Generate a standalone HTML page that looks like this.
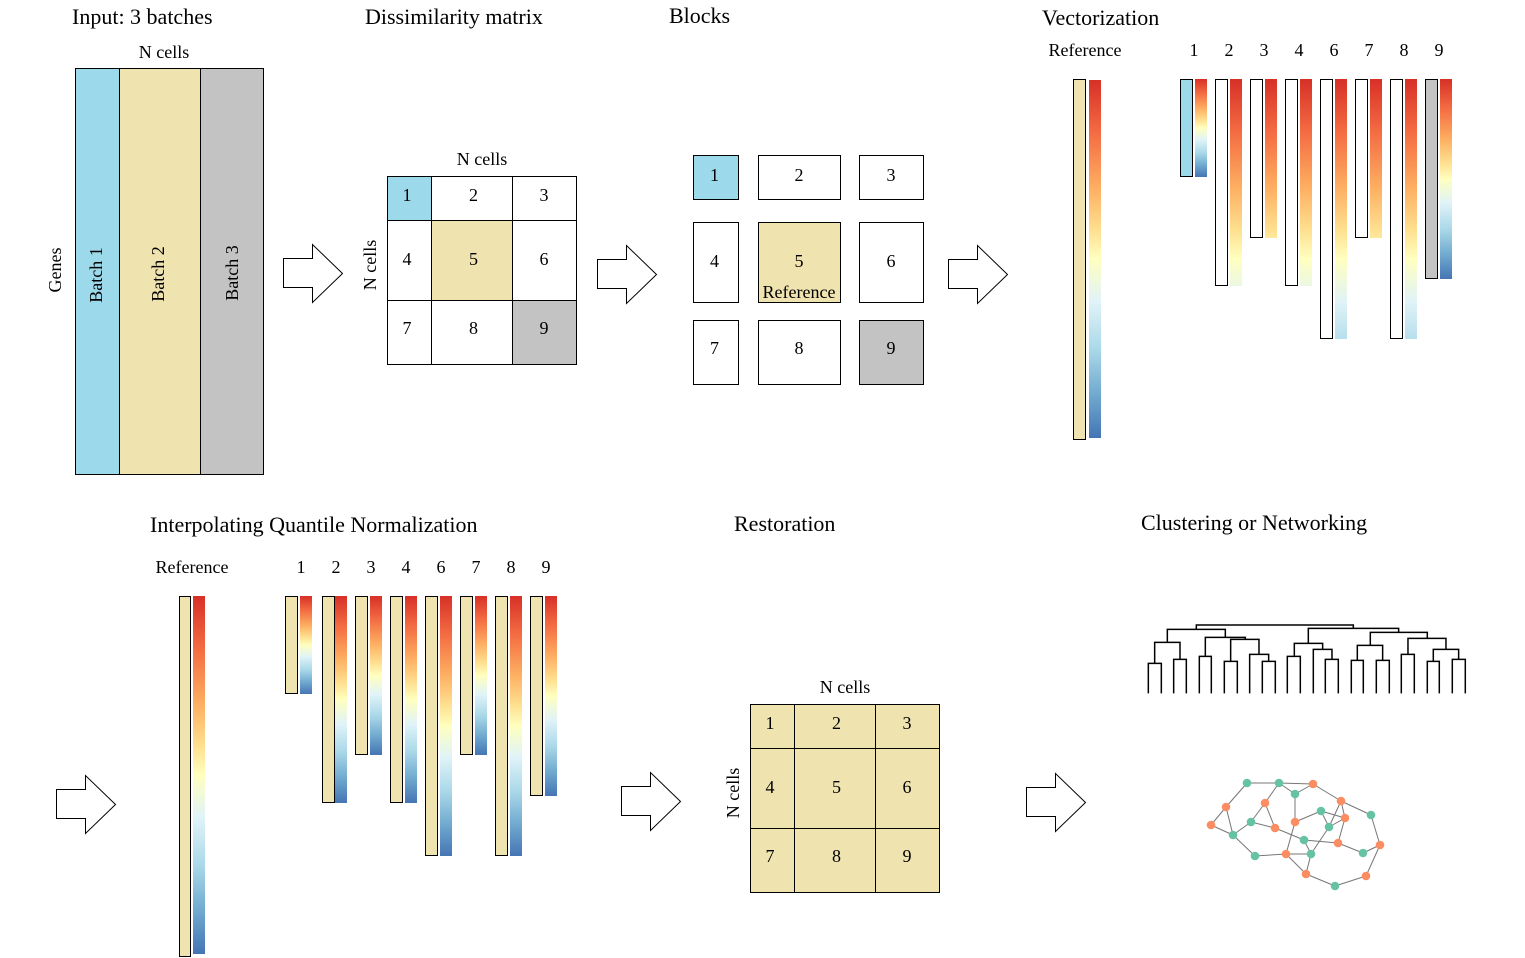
<!DOCTYPE html>
<html><head><meta charset="utf-8"><style>
html,body{margin:0;padding:0;background:#fff;}
svg{display:block;font-family:"Liberation Serif",serif;}
.t{font-size:22px;}
.s{font-size:18px;}
</style></head><body>
<svg id="svg" width="1525" height="958" viewBox="0 0 1525 958" xmlns="http://www.w3.org/2000/svg">
<defs>
<linearGradient id="rdylbu" x1="0" y1="0" x2="0" y2="1">
<stop offset="0" stop-color="#d73027"/><stop offset="0.15" stop-color="#f46d43"/><stop offset="0.3" stop-color="#fdae61"/><stop offset="0.42" stop-color="#fee090"/><stop offset="0.5" stop-color="#ffffbf"/><stop offset="0.62" stop-color="#e0f3f8"/><stop offset="0.75" stop-color="#abd9e9"/><stop offset="0.87" stop-color="#74add1"/><stop offset="1" stop-color="#4575b4"/>
</linearGradient>
</defs>
<text class="t" x="72" y="24">Input: 3 batches</text>
<text class="t" x="365" y="24">Dissimilarity matrix</text>
<text class="t" x="669" y="23">Blocks</text>
<text class="t" x="1042" y="25">Vectorization</text>
<text class="t" x="150" y="532">Interpolating Quantile Normalization</text>
<text class="t" x="734" y="531">Restoration</text>
<text class="t" x="1141" y="530">Clustering or Networking</text>

<g>
<text class="s" x="164" y="58" text-anchor="middle">N cells</text>
<rect x="75.5" y="68.5" width="44" height="406" fill="#9cd9ea" stroke="#000"/>
<rect x="119.5" y="68.5" width="81" height="406" fill="#efe3b0" stroke="#000"/>
<rect x="200.5" y="68.5" width="63" height="406" fill="#c3c3c3" stroke="#000"/>
<text class="s" transform="translate(61,270) rotate(-90)" text-anchor="middle">Genes</text>
<text class="s" transform="translate(102,275) rotate(-90)" text-anchor="middle">Batch 1</text>
<text class="s" transform="translate(164,274) rotate(-90)" text-anchor="middle">Batch 2</text>
<text class="s" transform="translate(238,273) rotate(-90)" text-anchor="middle">Batch 3</text>
</g>

<g id="arrows"></g>
<g id="grids"></g>
<g id="blocks"></g>
<g id="vec"></g>
<g id="iqn"></g>
<g id="dendro" transform="translate(1140,610) scale(0.3333)" fill="none" stroke="#000" stroke-width="4.5"></g>
<g id="net"></g>
</svg>
<script>
const NS='http://www.w3.org/2000/svg';
function mk(tag,attrs,parent){const e=document.createElementNS(NS,tag);for(const k in attrs)e.setAttribute(k,attrs[k]);parent.appendChild(e);return e;}
const svg=document.getElementById('svg');

const arrowX=[283,597,948,56,621,1026];
const arrowY=[244,245,245,775,772,773];
const ga=document.getElementById('arrows');
for(let i=0;i<arrowX.length;i++){
 const x=arrowX[i]+0.5,y=arrowY[i]+0.5;
 const p=mk('path',{d:`M${x},${y+14}H${x+29}V${y}L${x+59},${y+29}L${x+29},${y+58}V${y+43}H${x}Z`,fill:'#fff',stroke:'#000','stroke-width':1},ga);
 
 
}

const gg=document.getElementById('grids');
function grid(cx,ry,fills,name,tx,ty,lx,ly){
 const g=mk('g',{},gg);
 
 
 const t=mk('text',{class:'s',x:tx,y:ty,'text-anchor':'middle'},g);t.textContent='N cells';
 
 
 const v=mk('text',{class:'s',transform:`translate(${lx},${ly}) rotate(-90)`,'text-anchor':'middle'},g);v.textContent='N cells';
 
 
 let n=1;
 for(let r=0;r<3;r++)for(let c=0;c<3;c++){
  const rc=mk('rect',{x:cx[c]+0.5,y:ry[r]+0.5,width:cx[c+1]-cx[c],height:ry[r+1]-ry[r],fill:fills[n-1],stroke:'#000'},g);
  
  
  const tt=mk('text',{class:'s',x:(cx[c]+cx[c+1])/2+([-2,2,0][c]),y:(ry[r]+ry[r+1])/2+[3,5,2][r],'text-anchor':'middle'},g);tt.textContent=n;
  
  
  n++;
 }
}
const W='#fff',B='#efe3b0',C='#9cd9ea',G='#c3c3c3';
grid([387,431,512,576],[176,220,300,364],[C,W,W,W,B,W,W,W,G],'dissimilarity-matrix',482,165,376,265);
grid([750,794,875,939],[704,748,828,892],[B,B,B,B,B,B,B,B,B],'restored-matrix',845,693,739,793);

const gb=document.getElementById('blocks');
const blkX=[[693,738],[758,840],[859,923]];
const blkY=[[155,199],[222,302],[320,384]];
const blkFill=[C,W,W,W,B,W,W,W,G];
let bn=1;
for(let r=0;r<3;r++)for(let c=0;c<3;c++){
 const rc=mk('rect',{x:blkX[c][0]+0.5,y:blkY[r][0]+0.5,width:blkX[c][1]-blkX[c][0],height:blkY[r][1]-blkY[r][0],fill:blkFill[bn-1],stroke:'#000'},gb);
 
 
 const tt=mk('text',{class:'s',x:(blkX[c][0]+blkX[c][1])/2+(c==0?-1:0),y:[181,267,354][r],'text-anchor':'middle'},gb);tt.textContent=bn;
 
 
 bn++;
}
const rf=mk('text',{class:'s',x:799,y:298,'text-anchor':'middle'},gb);rf.textContent='Reference';



const vecLabels=['1','2','3','4','6','7','8','9'];
const vecLengths=[97,206,158,206,259,158,259,199];
const vecFill=['#9cd9ea','#fff','#fff','#fff','#fff','#fff','#fff','#c3c3c3'];
const refLength=360;
const gv=document.getElementById('vec');
let gid=0;
function grad(h,total){
 const id='g'+(gid++);
 const lg=mk('linearGradient',{id:id,x1:0,y1:0,x2:0,y2:total/h},svg.querySelector('defs'));
 lg.setAttribute('href','#rdylbu');
 return 'url(#'+id+')';
}
function lbl(parent,x,y,s,name){const t=mk('text',{class:'s',x:x,y:y,'text-anchor':'middle'},parent);t.textContent=s;return t;}
lbl(gv,1085,56,'Reference','reference-label');
let r1=mk('rect',{x:1073.5,y:79.5,width:12,height:refLength,fill:'#efe3b0',stroke:'#000'},gv);


let r2=mk('rect',{x:1089,y:80,width:12,height:refLength-2,fill:'url(#rdylbu)'},gv);


for(let i=0;i<vecLabels.length;i++){
 const lx=1194+i*35;
 lbl(gv,lx,56,vecLabels[i],'vector-label-'+vecLabels[i]);
 const h=vecLengths[i];
 const a=mk('rect',{x:lx-13.5,y:79.5,width:12,height:h,fill:vecFill[i],stroke:'#000'},gv);
 
 
 const full=(i==0||i==7);
 const b=mk('rect',{x:lx+1,y:79,width:12,height:h+1,fill:full?'url(#rdylbu)':grad(h+1,refLength)},gv);
 
 
}

const gi=document.getElementById('iqn');
lbl(gi,192,573,'Reference','iqn-reference-label');
r1=mk('rect',{x:179.5,y:596.5,width:11,height:refLength,fill:'#efe3b0',stroke:'#000'},gi);


r2=mk('rect',{x:193,y:596,width:12,height:refLength-2,fill:'url(#rdylbu)'},gi);


for(let i=0;i<vecLabels.length;i++){
 const lx=301+i*35;
 lbl(gi,lx,573,vecLabels[i],'iqn-label-'+vecLabels[i]);
 const h=vecLengths[i];
 const a=mk('rect',{x:lx-15.5+(i==1?2:0),y:596.5,width:12,height:h,fill:'#efe3b0',stroke:'#000'},gi);
 
 
 const b=mk('rect',{x:lx-1,y:596,width:12,height:h+1,fill:'url(#rdylbu)'},gi);
 
 
}

const merges=[
[25,64,160,250,250],[101,139,148,250,250],[44,120,97,160,148],
[178,214,139,250,250],[253,292,154,250,250],[367,406,154,250,250],[329,386,133,250,154],
[272,357,88,154,133],[196,316,82,139,88],[82,256,58,97,82],
[442,481,139,250,250],[556,595,148,250,250],[520,576,118,250,148],[463,548,100,139,118],
[634,670,151,250,250],[709,748,151,250,250],[652,728,106,151,151],
[862,898,154,250,250],[937,976,148,250,250],[784,823,133,250,250],[880,956,118,154,148],[804,918,85,133,118],
[691,862,67,106,85],[505,776,55,100,67],[169,640,45,58,55]];
const gd=document.getElementById('dendro');


for(const m of merges){
 const p=mk('path',{d:`M${m[0]},${m[3]}V${m[2]}H${m[1]}V${m[4]}`},gd);
 
 
}

const nodeX=[1247,1279,1313,1295,1226,1265,1341,1371,1321,1345,1211,1251,1295,1329,1275,1233,1304,1338,1380,1363,1255,1286,1311,1306,1366,1335];
const nodeY=[783,783,784,794,807,803,801,815,811,818,825,822,822,827,828,835,840,843,845,853,856,854,854,874,876,886];
const nodeGroup=[0,0,1,0,1,1,1,0,0,1,1,0,1,0,1,0,0,1,1,0,0,1,0,1,1,0];
const edges=[[0,1],[1,2],[1,3],[3,2],[0,4],[4,10],[4,15],[10,15],[1,5],[5,11],[5,14],[11,15],[11,14],[3,12],[12,8],[8,9],[8,13],[2,6],[6,7],[6,9],[6,13],[9,17],[7,18],[18,19],[17,19],[18,24],[24,25],[25,23],[23,21],[23,22],[21,22],[21,20],[20,15],[21,12],[14,16],[16,22],[16,17],[13,22],[9,13]];
const gn=document.getElementById('net');


for(const e of edges){
 const l=mk('line',{x1:nodeX[e[0]],y1:nodeY[e[0]],x2:nodeX[e[1]],y2:nodeY[e[1]],stroke:'#777','stroke-width':1},gn);
 
 
}
for(let i=0;i<nodeX.length;i++){
 const c=mk('circle',{cx:nodeX[i],cy:nodeY[i],r:4.3,fill:nodeGroup[i]?'#fc8d62':'#66c2a5'},gn);
 
 
}
</script>
</body></html>
